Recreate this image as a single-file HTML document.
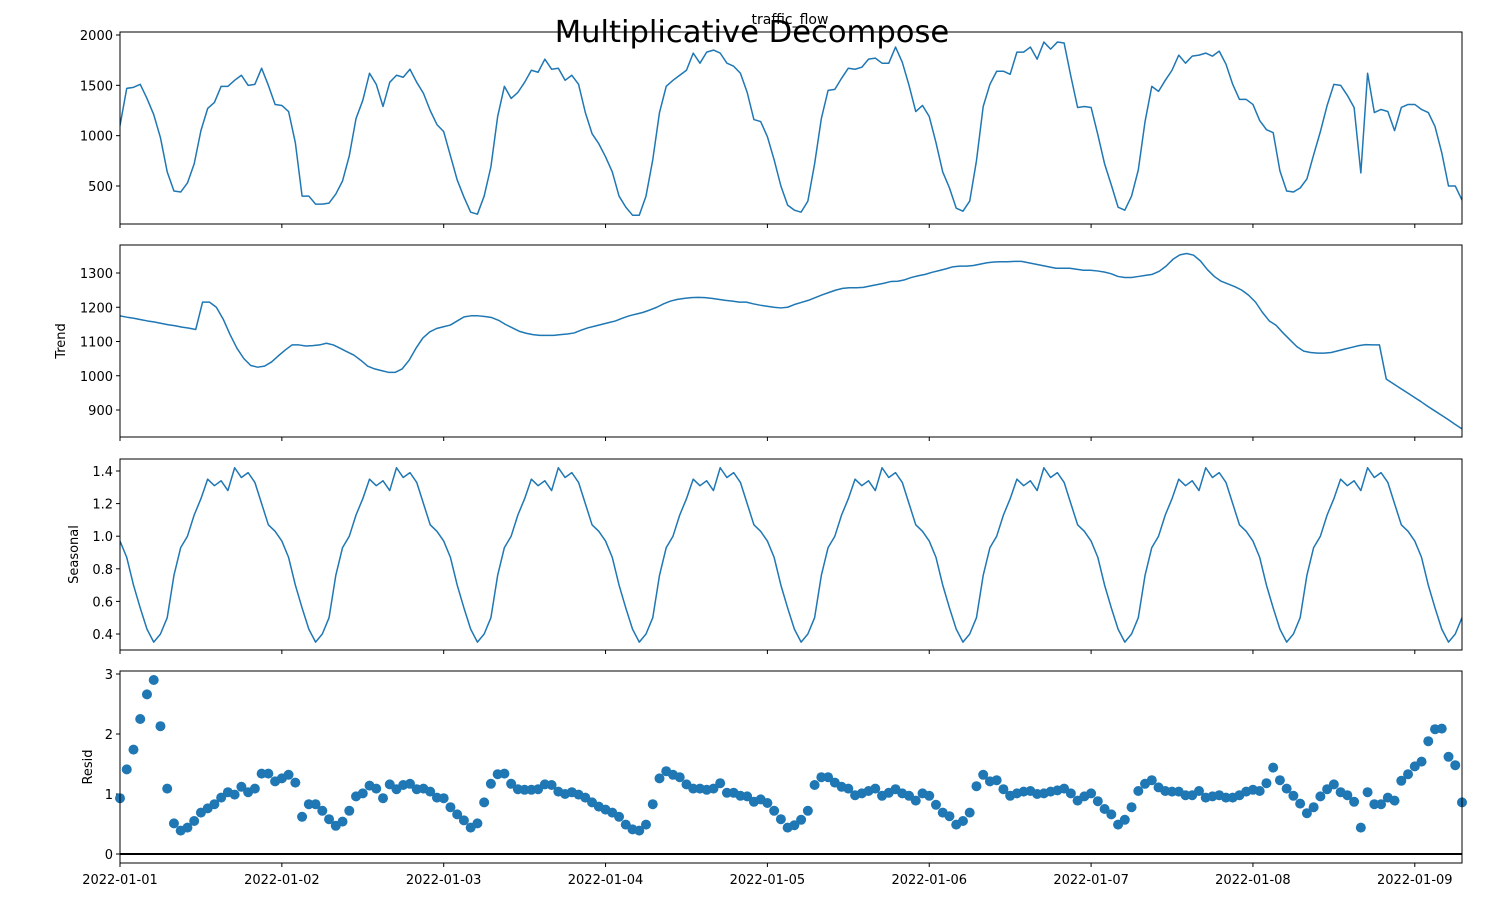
<!DOCTYPE html>
<html><head><meta charset="utf-8">
<style>
body{margin:0;background:#fff;}
svg{display:block;font-family:"DejaVu Sans","Liberation Sans",sans-serif;}
</style></head>
<body>
<svg id="chart" width="1504" height="898" xmlns="http://www.w3.org/2000/svg">
<text x="752" y="42" text-anchor="middle" font-size="30.6">Multiplicative Decompose</text>
<text x="790" y="24" text-anchor="middle" font-size="14">traffic_flow</text>
</svg>
<script>
const dateLabels=["2022-01-01","2022-01-02","2022-01-03","2022-01-04","2022-01-05","2022-01-06","2022-01-07","2022-01-08","2022-01-09"];
const observed=[1100,1470,1480,1510,1370,1210,980,640,450,440,530,720,1050,1270,1330,1490,1490,1550,1600,1500,1510,1670,1500,1310,1300,1240,930,400,400,320,320,330,420,550,800,1170,1350,1620,1510,1290,1530,1600,1580,1660,1530,1420,1250,1110,1040,800,560,390,240,220,400,690,1190,1490,1370,1430,1530,1650,1630,1760,1660,1670,1550,1600,1510,1230,1020,920,790,640,400,290,210,210,400,760,1230,1490,1550,1600,1650,1820,1720,1830,1850,1820,1720,1690,1620,1430,1160,1140,990,760,500,310,260,240,350,720,1170,1450,1460,1570,1670,1660,1680,1760,1770,1720,1720,1880,1730,1500,1240,1300,1190,930,640,480,280,250,350,750,1290,1510,1640,1640,1610,1830,1830,1880,1760,1930,1860,1930,1920,1590,1280,1290,1280,1010,720,510,290,260,400,660,1140,1490,1440,1550,1650,1800,1720,1790,1800,1820,1790,1840,1710,1510,1360,1360,1310,1150,1060,1030,650,450,440,480,570,810,1040,1300,1510,1500,1400,1280,630,1620,1230,1260,1240,1050,1280,1310,1310,1260,1230,1090,830,500,500,360];
const trend=[1175,1171,1168,1164,1160,1157,1153,1149,1146,1142,1139,1135,1215,1215,1200,1165,1120,1080,1050,1030,1025,1028,1040,1058,1075,1090,1090,1087,1088,1090,1095,1090,1080,1070,1060,1045,1028,1020,1015,1010,1010,1020,1045,1080,1110,1128,1138,1143,1148,1160,1172,1175,1175,1173,1170,1162,1150,1140,1130,1124,1120,1118,1118,1118,1120,1122,1125,1133,1140,1145,1150,1155,1160,1168,1175,1180,1185,1192,1200,1210,1218,1223,1226,1228,1229,1228,1226,1223,1220,1218,1215,1215,1210,1206,1203,1200,1198,1200,1208,1214,1220,1228,1236,1243,1250,1255,1257,1257,1258,1262,1266,1270,1275,1276,1280,1287,1292,1296,1302,1307,1312,1318,1320,1320,1322,1326,1330,1332,1333,1333,1334,1334,1330,1326,1322,1318,1314,1314,1314,1311,1308,1308,1306,1303,1298,1290,1287,1287,1290,1293,1296,1305,1320,1340,1353,1357,1352,1335,1310,1290,1276,1268,1260,1250,1235,1215,1185,1160,1147,1125,1105,1085,1072,1068,1066,1066,1068,1073,1078,1083,1088,1091,1090,1090,990,977,964,951,938,925,911,898,885,872,858,845];
const seasonalCycle=[0.97,0.87,0.7,0.56,0.43,0.35,0.4,0.5,0.76,0.93,1.0,1.13,1.23,1.35,1.31,1.34,1.28,1.42,1.36,1.39,1.33,1.2,1.07,1.03];
const resid=[0.93,1.41,1.74,2.25,2.66,2.9,2.13,1.09,0.51,0.39,0.44,0.55,0.69,0.76,0.83,0.94,1.03,0.99,1.12,1.03,1.09,1.34,1.34,1.21,1.26,1.32,1.19,0.62,0.83,0.83,0.72,0.58,0.47,0.54,0.72,0.96,1.01,1.14,1.09,0.93,1.16,1.08,1.15,1.17,1.08,1.09,1.04,0.94,0.93,0.78,0.66,0.56,0.44,0.51,0.86,1.17,1.33,1.34,1.17,1.08,1.07,1.07,1.08,1.16,1.15,1.04,1.0,1.03,0.99,0.94,0.86,0.79,0.74,0.69,0.62,0.49,0.41,0.39,0.49,0.83,1.26,1.38,1.32,1.28,1.16,1.09,1.09,1.07,1.09,1.18,1.02,1.02,0.97,0.96,0.87,0.91,0.85,0.72,0.58,0.44,0.48,0.57,0.72,1.15,1.28,1.28,1.19,1.12,1.09,0.98,1.01,1.05,1.09,0.97,1.02,1.08,1.01,0.97,0.89,1.01,0.97,0.82,0.69,0.63,0.49,0.55,0.69,1.13,1.32,1.21,1.23,1.08,0.97,1.01,1.04,1.05,1.0,1.01,1.04,1.06,1.09,1.01,0.89,0.96,1.01,0.88,0.75,0.66,0.49,0.57,0.78,1.05,1.17,1.23,1.11,1.05,1.04,1.04,0.98,0.98,1.05,0.94,0.96,0.98,0.94,0.94,0.98,1.04,1.07,1.05,1.18,1.44,1.23,1.09,0.97,0.84,0.68,0.78,0.96,1.08,1.16,1.03,0.98,0.87,0.44,1.03,0.83,0.83,0.94,0.89,1.22,1.33,1.46,1.54,1.88,2.08,2.09,1.62,1.48,0.86];
const obsTicks=[500,1000,1500,2000];
const trendTicks=[900,1000,1100,1200,1300];
const seasTicks=[0.4,0.6,0.8,1.0,1.2,1.4];
const residTicks=[0,1,2,3];

const NS="http://www.w3.org/2000/svg";
const svg=document.getElementById('chart');
const L=120,R=1462,N=200;
function mk(tag,attrs,parent){const e=document.createElementNS(NS,tag);for(const k in attrs)e.setAttribute(k,attrs[k]);(parent||svg).appendChild(e);return e;}
function xs(i,len){return L+i*(R-L)/((len||N)-1);}
const panels=[
 {name:'observed',top:32,bot:224,v0:500,y0:186,v1:2000,y1:35,ticks:obsTicks,fmt:v=>String(v),label:''},
 {name:'trend',top:245,bot:437,v0:900,y0:410,v1:1300,y1:273,ticks:trendTicks,fmt:v=>String(v),label:'Trend',lx:65},
 {name:'seasonal',top:459,bot:650,v0:0.4,y0:634,v1:1.4,y1:471,ticks:seasTicks,fmt:v=>v.toFixed(1),label:'Seasonal',lx:78},
 {name:'resid',top:671,bot:863,v0:0,y0:854,v1:3,y1:674,ticks:residTicks,fmt:v=>String(v),label:'Resid',lx:92}
];
panels.forEach((p,pi)=>{
 const ys=v=>p.y0+(v-p.v0)*(p.y1-p.y0)/(p.v1-p.v0);
 p.ys=ys;
 const g=mk('g',{});
 
 
 p.g=g;
 p.ticks.forEach(t=>{
  const y=ys(t);
  const tl=mk('line',{x1:L-4,x2:L,y1:y,y2:y,stroke:'#000','stroke-width':1},g);
  
  
  const tx=mk('text',{x:L-7,y:y+5,'text-anchor':'end','font-size':13},g);
  tx.textContent=p.fmt(t);
  
  
 });
 for(let d=0;d<dateLabels.length;d++){
  const x=xs(d*24);
  const xt=mk('line',{x1:x,x2:x,y1:p.bot,y2:p.bot+4,stroke:'#000','stroke-width':1},g);
  
  
  if(pi===3){
   const tx=mk('text',{x:x,y:p.bot+21,'text-anchor':'middle','font-size':13},g);
   tx.textContent=dateLabels[d];
   
   
  }
 }
 if(p.label){
  const yl=mk('text',{x:p.lx,y:(p.top+p.bot)/2,'text-anchor':'middle','font-size':13,transform:`rotate(-90 ${p.lx} ${(p.top+p.bot)/2})`},g);
  yl.textContent=p.label;
  
  
 }
});
function line(p,arr,name){
 let d='';arr.forEach((v,i)=>{d+=(i?'L':'M')+xs(i,arr.length).toFixed(2)+','+p.ys(v).toFixed(2);});
 const cp=mk('clipPath',{id:'clip-'+name});
 mk('rect',{x:L,y:p.top,width:R-L,height:p.bot-p.top},cp);
 const path=mk('path',{d:d,fill:'none',stroke:'#1f77b4','stroke-width':1.5,'stroke-linejoin':'round','clip-path':'url(#clip-'+name+')'},p.g);
 
 
}
line(panels[0],observed,'observed');
line(panels[1],trend,'trend');
const seasonal=[];for(let i=0;i<N;i++)seasonal.push(seasonalCycle[i%24]);
line(panels[2],seasonal,'seasonal');
const rp=panels[3];
const zl=mk('line',{x1:L,x2:R,y1:rp.ys(0),y2:rp.ys(0),stroke:'#000','stroke-width':2},rp.g);


resid.forEach((v,i)=>{
 const c=mk('circle',{cx:xs(i,resid.length),cy:rp.ys(v),r:5,fill:'#1f77b4'},rp.g);
 
 
});
panels.forEach(p=>{
 const fr=mk('rect',{x:L,y:p.top,width:R-L,height:p.bot-p.top,fill:'none',stroke:'#000','stroke-width':1},p.g);
 
 
});
</script>
</body></html>
